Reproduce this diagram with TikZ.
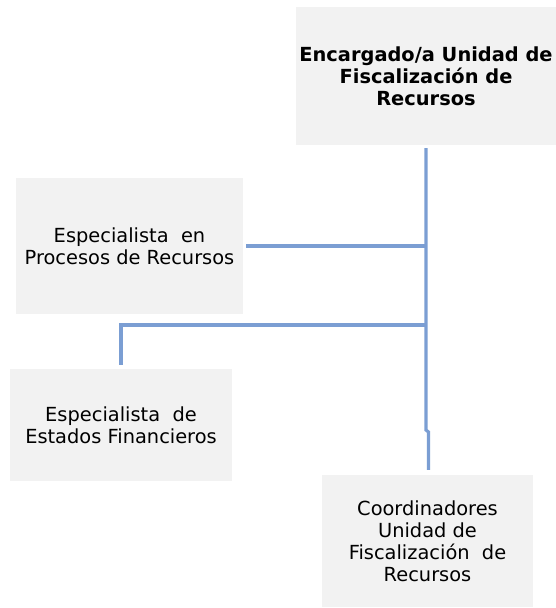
\documentclass[tikz,border=0pt]{standalone}
\usepackage{fontspec}
\setmainfont{DejaVu Sans}
\usetikzlibrary{positioning}
\definecolor{boxgray}{HTML}{F2F2F2}
\definecolor{linkblue}{HTML}{7B9ED3}
\tikzset{
  postbox/.style={fill=boxgray, align=center, inner sep=0pt,
    font=\fontsize{19.4}{22}\selectfont},
  link/.style={linkblue, line width=3.2pt}
}
\begin{document}
\begin{tikzpicture}[x=1pt, y=-1pt]
\useasboundingbox (0,0) rectangle (556,608);
% boxes
\node[postbox, minimum width=260pt, minimum height=138pt, font=\fontsize{19.4}{22}\selectfont\bfseries]
  (top) at (426,76) {Encargado/a Unidad de\\Fiscalización de\\Recursos};
\node[postbox, minimum width=227pt, minimum height=136pt]
  (procesos) at (129.5,246) {Especialista\ \ en\\Procesos de Recursos};
\node[postbox, minimum width=222pt, minimum height=112pt]
  (estados) at (121,425) {Especialista\ \ de\\Estados Financieros};
\node[postbox, minimum width=211pt, minimum height=132pt]
  (coord) at (427.5,541) {Coordinadores\\Unidad de\\Fiscalización\ \ de\\Recursos};
% connectors
\coordinate (jog) at (426,430);
\coordinate (split) at (426,325);
\draw[link] ([yshift=-3pt]top.south) -- (jog) -- ++(2.5,2) -- ([xshift=1pt,yshift=5pt]coord.north);
\draw[link] ([xshift=3pt]procesos.east) -- (procesos.east -| jog);
\draw[link] (split) -| ([yshift=4pt]estados.north);
\end{tikzpicture}
\end{document}
